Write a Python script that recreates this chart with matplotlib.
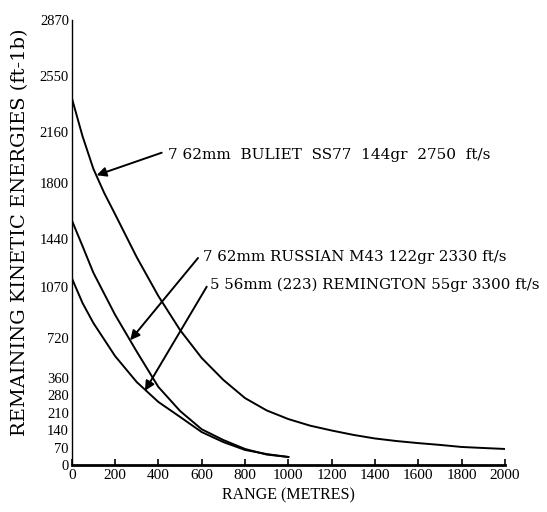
import numpy as np
import matplotlib
matplotlib.use("Agg")
import matplotlib.pyplot as plt

plt.rcParams['font.family'] = ['Liberation Serif', 'DejaVu Serif']

# ---- data ----
range_ss77 = [0, 50, 100, 150, 200, 300, 400, 500, 600, 700, 800, 900, 1000,
              1100, 1200, 1300, 1400, 1500, 1600, 1700, 1800, 1900, 2000]
energy_ss77 = [2400, 2130, 1900, 1736, 1600, 1300, 1008, 775, 540, 351, 268, 220, 185,
               158, 138, 121, 107, 97, 89, 82, 74, 70, 66]

range_m43 = [0, 50, 100, 200, 300, 400, 500, 600, 700, 800, 900, 1000]
energy_m43 = [1562, 1385, 1180, 880, 598, 318, 218, 143, 101, 66, 43, 33]

range_rem = [0, 50, 100, 200, 300, 400, 500, 600, 700, 800, 900, 1000]
energy_rem = [1140, 960, 823, 558, 341, 253, 194, 132, 93, 62, 45, 33]

y_ticks = [0, 70, 140, 210, 280, 360, 720, 1070, 1440, 1800, 2160, 2550, 2870]
x_ticks = [0, 200, 400, 600, 800, 1000, 1200, 1400, 1600, 1800, 2000]

label_ss77 = "7 62mm  BULIET  SS77  144gr  2750  ft/s"
label_m43 = "7 62mm RUSSIAN M43 122gr 2330 ft/s"
label_rem = "5 56mm (223) REMINGTON 55gr 3300 ft/s"

# non-uniform printed energy axis: relative positions of the printed ticks
y_tick_pos = [0, 17, 35, 52, 70, 87, 127, 178, 226, 282, 333, 389, 445]


def fwd(v):
    return np.interp(np.asarray(v, dtype=float), y_ticks, y_tick_pos)


def inv(p):
    return np.interp(np.asarray(p, dtype=float), y_tick_pos, y_ticks)


fig = plt.figure(figsize=(5.47, 5.12), dpi=100)
ax = fig.add_axes([0.1311, 0.0918, 0.7921, 0.8691])
ax.set_yscale('function', functions=(fwd, inv))

lw = 1.4
ax.plot(range_ss77, energy_ss77, color='black', lw=lw)
ax.plot(range_m43, energy_m43, color='black', lw=lw)
ax.plot(range_rem, energy_rem, color='black', lw=lw)

ax.set_xlim(0, 2000)
ax.set_ylim(0, 2870)
ax.set_xticks(x_ticks)
ax.set_xticklabels([str(t) for t in x_ticks], fontsize=11)
ax.set_yticks(y_ticks)
ax.set_yticklabels([str(t) for t in y_ticks], fontsize=10.5)
ax.tick_params(axis='x', direction='in', length=4, width=1.2, pad=3)
ax.tick_params(axis='y', direction='in', length=0, pad=2)
ax.minorticks_off()

for s in ['top', 'right']:
    ax.spines[s].set_visible(False)
ax.spines['left'].set_linewidth(1.0)
ax.spines['bottom'].set_linewidth(2.0)

ax.set_xlabel("RANGE (METRES)", fontsize=11.5, labelpad=4)
ax.set_ylabel("REMAINING KINETIC ENERGIES (ft-1b)", fontsize=14,
              family=['DejaVu Serif'], va='center')
ax.yaxis.set_label_coords(-0.119, 0.524)

arrow = dict(arrowstyle='-|>', color='black', lw=1.4, mutation_scale=14,
             shrinkA=0, shrinkB=0)
fs = 10.8
tfam = ['DejaVu Serif']
# SS77
ax.annotate('', xy=(115, 1855), xycoords='data', xytext=(0.2077, 0.7018),
            textcoords='axes fraction', arrowprops=arrow)
ax.text(0.222, 0.697, label_ss77, transform=ax.transAxes, ha='left', va='center',
        fontsize=11, family=tfam)
# Russian M43
ax.annotate('', xy=(270, 700), xycoords='data', xytext=(0.2915, 0.4652),
            textcoords='axes fraction', arrowprops=arrow)
ax.text(0.303, 0.467, label_m43, transform=ax.transAxes, ha='left', va='center',
        fontsize=fs, family=tfam)
# Remington
ax.annotate('', xy=(338, 300), xycoords='data', xytext=(0.3116, 0.4007),
            textcoords='axes fraction', arrowprops=arrow)
ax.text(0.319, 0.406, label_rem, transform=ax.transAxes, ha='left', va='center',
        fontsize=fs, family=tfam)

fig.savefig("out.png", dpi=100)
